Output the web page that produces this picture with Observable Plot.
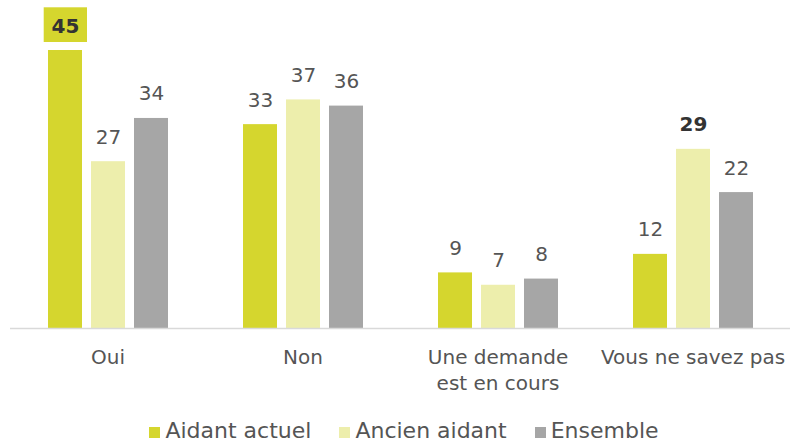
<!DOCTYPE html>
<html>
<head>
<meta charset="utf-8">
<script src="https://cdn.jsdelivr.net/npm/d3@7"></script>
<script src="https://cdn.jsdelivr.net/npm/@observablehq/plot@0.6"></script>
<style>
  body { margin: 0; background: #fff; font-family: "DejaVu Sans", sans-serif; position: relative; width: 794px; height: 444px; overflow: hidden; }
  #legend { position: absolute; left: 0; top: 420px; width: 794px; display: flex; justify-content: center; gap: 28px; padding-left: 14px; box-sizing: border-box;
            font-size: 22px; font-weight: 400; color: #555555; line-height: 22px; }
  #legend span.item { display: flex; align-items: baseline; }
  #legend i { display: inline-block; width: 11px; height: 11px; margin-right: 5px; }
</style>
</head>
<body>
<div id="chart"></div>
<div id="legend"></div>
<script>
const categories = ["Oui", "Non", "Une demande\nest en cours", "Vous ne savez pas"];
const series = ["Aidant actuel", "Ancien aidant", "Ensemble"];
const aidantActuel = [45, 33, 9, 12];
const ancienAidant = [27, 37, 7, 29];
const ensemble = [34, 36, 8, 22];
const colors = ["#d5d62e", "#edeeac", "#a6a6a6"];
const boldLabels = [["Oui", "Aidant actuel"], ["Vous ne savez pas", "Ancien aidant"]];
const boxedLabels = [["Oui", "Aidant actuel"]];

const valuesBySeries = [aidantActuel, ancienAidant, ensemble];
const data = [];
categories.forEach((c, i) => {
  series.forEach((s, j) => {
    data.push({category: c, series: s, value: valuesBySeries[j][i]});
  });
});
const isIn = (list, d) => list.some(([c, s]) => d.category === c && d.series === s);
const boxed = data.filter(d => isIn(boxedLabels, d));
const bold = data.filter(d => isIn(boldLabels, d));
const plain = data.filter(d => !isIn(boldLabels, d));

const font = "'DejaVu Sans', sans-serif";
const chart = Plot.plot({
  width: 794,
  height: 405,
  marginTop: 50,
  marginBottom: 77,
  marginLeft: 10,
  marginRight: 4,
  style: {fontFamily: font, background: "#fff", display: "block"},
  fx: {domain: categories, padding: 0},
  x: {domain: series, paddingInner: 0.21, paddingOuter: 0.846, axis: null},
  y: {domain: [0, 45], axis: null},
  color: {domain: series, range: colors},
  marks: [
    Plot.barY(data, {fx: "category", x: "series", y: "value", fill: "series"}),
    Plot.barY(boxed, {fx: "category", x: "series", y1: "value", y2: "value", fill: colors[0],
      insetTop: -42.7, insetBottom: 8, insetLeft: -4.3, insetRight: -5}),
    Plot.text(plain, {fx: "category", x: "series", y: "value", text: d => String(d.value),
      lineAnchor: "bottom", dy: -18, fontSize: 20, fontWeight: 400, fill: "#555555"}),
    Plot.text(bold, {fx: "category", x: "series", y: "value", text: d => String(d.value),
      lineAnchor: "bottom", dy: -18, fontSize: 20, fontWeight: 700, fill: "#333333"}),
    Plot.axisFx({anchor: "bottom", tickSize: 0, tickPadding: 17, fontSize: 20, fontWeight: 400,
      lineAnchor: "top", lineHeight: 1.3, label: null, fill: "#555555"}),
    Plot.ruleY([0], {stroke: "#d9d9d9", strokeWidth: 1.5})
  ]
});
document.getElementById("chart").appendChild(chart);

const legend = document.getElementById("legend");
series.forEach((s, j) => {
  const item = document.createElement("span");
  item.className = "item";
  const sw = document.createElement("i");
  sw.style.background = colors[j];
  item.appendChild(sw);
  item.appendChild(document.createTextNode(s));
  legend.appendChild(item);
});
</script>
</body>
</html>
